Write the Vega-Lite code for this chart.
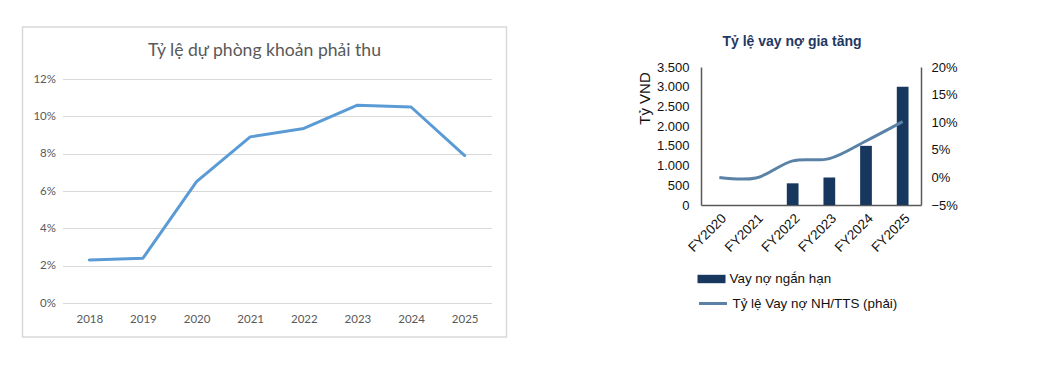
{
  "$schema": "https://vega.github.io/schema/vega-lite/v6.json",
  "padding": {"left": 21.5, "top": 26, "right": 0, "bottom": 0},
  "background": "white",
  "spacing": 129.5,
  "config": {"view": {"stroke": null}},
  "hconcat": [
    {
      "width": 484,
      "height": 310,
      "view": {"stroke": "#d9d9d9", "strokeWidth": 1.5},
      "title": {"text": "Tỷ lệ dự phòng khoản phải thu", "font": "Lato", "fontSize": 17.6, "fontWeight": "normal", "color": "#595959", "anchor": "middle", "frame": "group", "offset": -33},
      "data": {"values": [
        {"year": "2018", "rate": 0.023},
        {"year": "2019", "rate": 0.024},
        {"year": "2020", "rate": 0.065},
        {"year": "2021", "rate": 0.089},
        {"year": "2022", "rate": 0.0935},
        {"year": "2023", "rate": 0.106},
        {"year": "2024", "rate": 0.105},
        {"year": "2025", "rate": 0.079}
      ]},
      "mark": {"type": "line", "color": "#5b9bd5", "strokeWidth": 3, "strokeCap": "round", "strokeJoin": "round"},
      "encoding": {
        "x": {"field": "year", "type": "ordinal",
          "scale": {"type": "point", "range": [40, 469], "padding": 0.5},
          "axis": {"title": null, "labelAngle": 0, "offset": -34, "domain": false, "ticks": false, "grid": false, "labelFont": "Lato", "labelFontSize": 11.5, "labelColor": "#595959", "labelPadding": 10}},
        "y": {"field": "rate", "type": "quantitative",
          "scale": {"domain": [0, 0.12], "range": [276, 52], "nice": false},
          "axis": {"title": null, "format": ".0%", "values": [0, 0.02, 0.04, 0.06, 0.08, 0.1, 0.12], "offset": -40, "domain": false, "ticks": false, "grid": true, "gridColor": "#d9d9d9", "gridWidth": 1, "labelFont": "Lato", "labelFontSize": 11.5, "labelColor": "#595959", "labelPadding": 7}}
      }
    },
    {
      "width": 220,
      "height": 178,
      "title": {"text": "Tỷ lệ vay nợ gia tăng", "font": "Liberation Sans", "fontSize": 14, "fontWeight": "bold", "color": "#1f3864", "anchor": "middle", "frame": "group", "offset": -22, "dx": -19},
      "data": {"values": [
        {"fy": "FY2020", "debt": 0, "ratio": 0.0},
        {"fy": "FY2021", "debt": 0, "ratio": -0.001},
        {"fy": "FY2022", "debt": 550, "ratio": 0.03},
        {"fy": "FY2023", "debt": 700, "ratio": 0.034},
        {"fy": "FY2024", "debt": 1500, "ratio": 0.066},
        {"fy": "FY2025", "debt": 3000, "ratio": 0.101}
      ]},
      "encoding": {
        "x": {"field": "fy", "type": "ordinal",
          "scale": {"paddingInner": 0.68, "paddingOuter": 0.34},
          "axis": {"title": null, "labelAngle": -45, "domain": true, "domainColor": "#595959", "domainWidth": 1.5, "ticks": false, "labelFont": "Liberation Sans", "labelFontSize": 13.5, "labelColor": "#111111", "labelPadding": 6}}
      },
      "layer": [
        {
          "mark": {"type": "bar"},
          "encoding": {
            "y": {"field": "debt", "type": "quantitative",
              "scale": {"domain": [0, 3500], "range": [178, 40], "nice": false},
              "axis": {"title": "Tỷ VND", "titleFont": "Liberation Sans", "titleFontSize": 15, "titleFontWeight": "normal", "titleColor": "#111111", "titleX": -57, "titleY": 71, "titleAngle": -90, "titleAlign": "center", "titleBaseline": "middle",
                "values": [0, 500, 1000, 1500, 2000, 2500, 3000, 3500],
                "labelExpr": "replace(format(datum.value, ','), ',', '.')",
                "domain": true, "domainColor": "#595959", "domainWidth": 1.5, "ticks": false, "grid": false, "labelFont": "Liberation Sans", "labelFontSize": 13, "labelColor": "#111111", "labelPadding": 12}},
            "color": {"datum": "Vay nợ ngắn hạn", "scale": {"range": ["#17375e"]},
              "legend": {"orient": "none", "legendX": 675, "legendY": 238, "title": null, "symbolType": "M-1,-0.3H1V0.3H-1Z", "symbolSize": 784, "symbolStrokeWidth": 0, "labelFont": "Liberation Sans", "labelFontSize": 13.4, "labelColor": "#111111", "labelOffset": 4, "labelLimit": 400, "padding": 0}}
          }
        },
        {
          "mark": {"type": "line", "strokeWidth": 3, "interpolate": "catmull-rom"},
          "encoding": {
            "y": {"field": "ratio", "type": "quantitative",
              "scale": {"domain": [-0.05, 0.2], "range": [178, 40], "nice": false, "zero": false},
              "axis": {"title": null, "orient": "right", "format": ".0%", "values": [-0.05, 0, 0.05, 0.1, 0.15, 0.2], "domain": true, "domainColor": "#595959", "domainWidth": 1.5, "ticks": false, "grid": false, "labelFont": "Liberation Sans", "labelFontSize": 13, "labelColor": "#111111", "labelPadding": 10}},
            "stroke": {"datum": "Tỷ lệ Vay nợ NH/TTS (phải)", "scale": {"range": ["#5a82a6"]},
              "legend": {"orient": "none", "legendX": 675, "legendY": 261, "title": null, "symbolType": "stroke", "symbolSize": 784, "symbolStrokeWidth": 3, "labelFont": "Liberation Sans", "labelFontSize": 13.4, "labelColor": "#111111", "labelOffset": 4, "labelLimit": 400, "padding": 0}}
          }
        }
      ],
      "resolve": {"scale": {"y": "independent"}}
    }
  ]
}
